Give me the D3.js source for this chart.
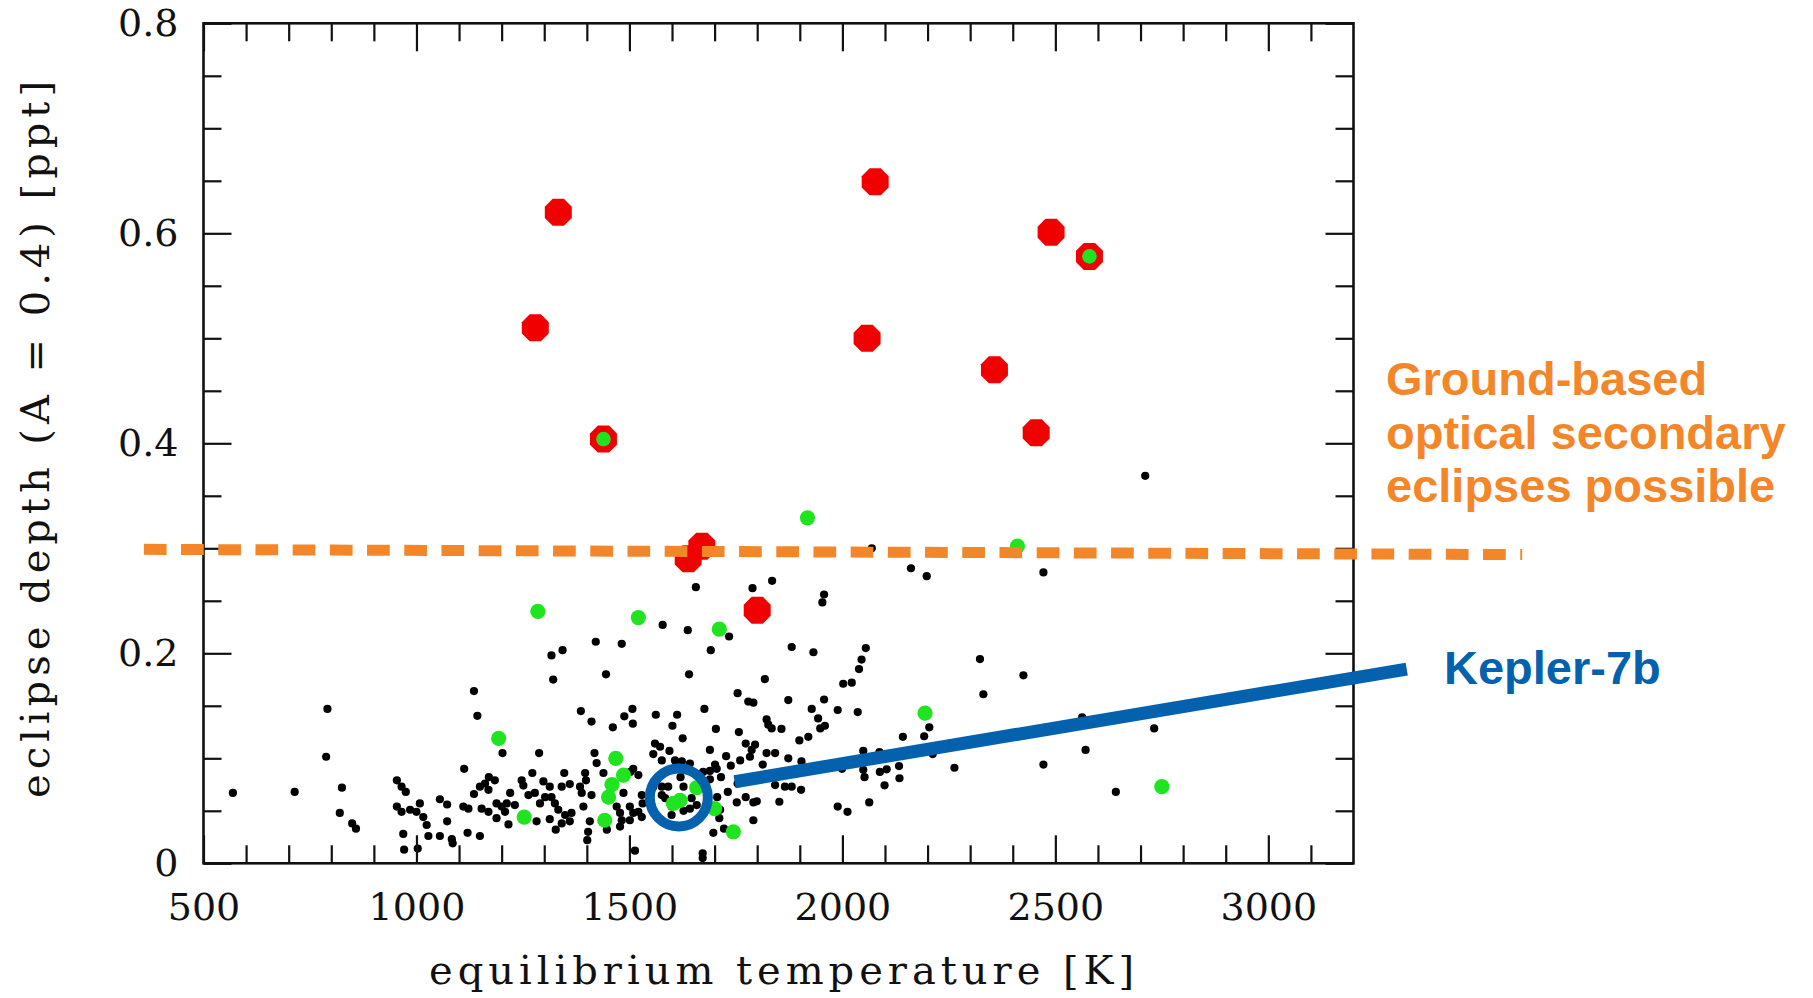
<!DOCTYPE html>
<html><head><meta charset="utf-8">
<script src="https://cdn.jsdelivr.net/npm/d3@7"></script>
<style>html,body{margin:0;padding:0;background:#fff;} svg{display:block}</style>
</head><body>
<svg id="chart" width="1813" height="998"></svg>
<script>
// ---------- DATA (equilibrium temperature [K], eclipse depth [ppt]) ----------
const xMajorTicks = [500, 1000, 1500, 2000, 2500, 3000];
const yMajorTicks = [0, 0.2, 0.4, 0.6, 0.8];
const yTickLabels = ["0", "0.2", "0.4", "0.6", "0.8"];

const blackPlanets = [
 [569,0.067],[714,0.068],[791,0.147],[788,0.1015],[825,0.072],[820,0.048],[849,0.038],[858,0.033],
 [1421,0.211],[1343,0.203],[1317,0.198],[1445,0.180],[1321,0.175],[1135,0.164],[1143,0.1405],[1386,0.145],
 [1411,0.135],[1202,0.105],[1288,0.105],[1112,0.090],[1418,0.105],[1423,0.0955],[1272,0.086],[954,0.079],
 [965,0.073],[975,0.068],[1170,0.082],[1161,0.076],[1184,0.079],[1149,0.073],[1135,0.066],[1169,0.070],
 [1220,0.067],[1247,0.079],[1251,0.074],[1298,0.078],[1313,0.073],[1347,0.086],[1360,0.0755],[1341,0.073],
 [1396,0.086],[1398,0.079],[1384,0.073],[1411,0.065],[1263,0.065],[1278,0.067],[1290,0.057],[1302,0.063],
 [1317,0.063],[1325,0.057],[1333,0.051],[1349,0.046],[1364,0.048],[1392,0.054],[1388,0.067],[954,0.054],
 [965,0.049],[985,0.051],[1008,0.057],[1000,0.049],[1016,0.044],[1024,0.0365],[1055,0.061],[1072,0.056],
 [1072,0.040],[1110,0.054],[1122,0.052],[1153,0.052],[1169,0.049],[1188,0.057],[1200,0.054],[1212,0.057],
 [1208,0.049],[1231,0.0555],[1188,0.043],[1216,0.037],[1282,0.040],[1313,0.042],[1341,0.038],[1327,0.032],
 [1360,0.040],[1407,0.040],[1403,0.030],[1401,0.022],[1447,0.032],[969,0.028],[971,0.013],[1003,0.014],
 [1028,0.026],[1055,0.026],[1083,0.023],[1085,0.019],[1120,0.029],[1149,0.026],[1439,0.086],
 [1482,0.209],[1691,0.203],[1881,0.206],[1932,0.201],[1640,0.180],[1818,0.1755],[1754,0.162],[1779,0.154],
 [1791,0.153],[1873,0.1555],[1957,0.156],[1989,0.146],[1507,0.147],[1488,0.140],[1508,0.133],[1461,0.1295],
 [1562,0.1415],[1612,0.1415],[1601,0.131],[1676,0.147],[1703,0.128],[1625,0.119],[1757,0.125],[1822,0.137],
 [1826,0.132],[1834,0.1285],[1857,0.128],[1928,0.147],[1943,0.138],[1948,0.1285],[1959,0.131],[1920,0.1205],
 [1899,0.117],[1572,0.111],[1556,0.104],[1594,0.107],[1576,0.098],[1607,0.098],[1623,0.097],[1642,0.095],
 [1689,0.108],[1701,0.094],[1705,0.090],[1727,0.102],[1738,0.093],[1760,0.098],[1773,0.114],[1795,0.113],
 [1787,0.108],[1783,0.1015],[1822,0.105],[1842,0.105],[1873,0.100],[1813,0.094],[1904,0.097],[1689,0.088],
 [1715,0.082],[1731,0.068],[1754,0.076],[1773,0.063],[1752,0.058],[1791,0.058],[1799,0.059],[1842,0.0745],
 [1865,0.073],[1881,0.073],[1903,0.070],[1852,0.0586],[1989,0.054],[1706,0.063],[1713,0.051],[1711,0.043],
 [1697,0.029],[1722,0.033],[1791,0.041],[1689,0.080],[1521,0.084],[1509,0.090],[1502,0.087],[1486,0.067],
 [1470,0.054],[1478,0.048],[1501,0.054],[1509,0.048],[1501,0.041],[1529,0.065],[1531,0.057],[1521,0.049],
 [1529,0.044],[1482,0.041],[1478,0.035],[1560,0.114],[1564,0.079],[1556,0.073],[1576,0.073],[1576,0.065],
 [1584,0.062],[1591,0.073],[1620,0.082],[1627,0.073],[1646,0.062],[1658,0.0555],[1627,0.050],[1642,0.052],
 [1599,0.054],[1599,0.046],[1513,0.012],[1672,0.0095],[1672,0.005],[1673,0.087],[1666,0.081],
 [1656,0.263],[1789,0.262],[1835,0.269],[1957,0.256],[1953,0.2485],[1578,0.227],[1637,0.222],[1734,0.216],
 [2055,0.205],[2161,0.281],[2198,0.2735],[2472,0.277],[2045,0.194],[2039,0.185],[2002,0.171],[2022,0.172],
 [2036,0.144],[2323,0.1945],[2425,0.179],[2331,0.161],[2204,0.1295],[2192,0.121],[2142,0.1205],[2049,0.107],
 [2087,0.106],[2212,0.104],[1999,0.090],[2049,0.089],[2052,0.082],[2088,0.087],[2104,0.0895],[2133,0.0926],
 [2134,0.081],[2099,0.0743],[2263,0.091],[2012,0.049],[2063,0.058],[2563,0.139],[2571,0.108],[2472,0.094],
 [2642,0.068],[2711,0.369],[2732,0.1285],[2069,0.300]
];

const greenPlanets = [
 [1918,0.329],[2411,0.302],[1285,0.240],[1521,0.234],[1711,0.223],[2194,0.143],[1193,0.119],[2750,0.073],
 [1468,0.100],[1486,0.084],[1459,0.075],[1451,0.063],[1442,0.041],[1253,0.044],[1619,0.060],[1603,0.057],
 [1658,0.072],[1700,0.052],[1744,0.030]
];

const redPlanets = [
 [1333,0.620],[1279,0.510],[1439,0.404],[2077,0.649],[2058,0.500],[2490,0.601],[2580,0.578],
 [2357,0.470],[2455,0.410],[1670,0.302],[1638,0.290],[1800,0.241]
];
const redWithGreenCenter = [[1439,0.404],[2580,0.578]];

const thresholdTemp = [360, 3596];
const thresholdDepth = [0.299, 0.294];

const kepler7b = [1616, 0.0627];
const keplerPointerTemp = [1747, 3325];
const keplerPointerDepth = [0.0777, 0.185];

const groundLines = ["Ground-based", "optical secondary", "eclipses possible"];
const keplerLabel = "Kepler-7b";
const xTitle = "equilibrium temperature [K]";
const yTitle = "eclipse depth (A = 0.4) [ppt]";

// ---------- LAYOUT ----------
const svg = d3.select("#chart");
const L = 203.5, R = 1353.5, T = 23.3, B = 863.3;
const x = d3.scaleLinear().domain([500, 3200]).range([L, R]);
const y = d3.scaleLinear().domain([0, 0.8]).range([B, T]);

const xMinor = d3.range(600, 3200, 100).filter(v => v % 500 !== 0);
const yMinor = d3.range(0.05, 0.8, 0.05).filter(v => Math.abs(v*5 - Math.round(v*5)) > 1e-6);

const tickFont = "'DejaVu Serif', serif";
const orange = "#f4862a", blue = "#0461ad";

// points layer
const pts = svg.append("g");
pts.selectAll("circle.b").data(blackPlanets).join("circle").attr("class","b")
  .attr("cx", d => x(d[0])).attr("cy", d => y(d[1])).attr("r", 4.1).attr("fill", "#000");
pts.selectAll("circle.g").data(greenPlanets).join("circle").attr("class","g")
  .attr("cx", d => x(d[0])).attr("cy", d => y(d[1])).attr("r", 7.6).attr("fill", "#1fe41f");

const octagon = { draw(ctx, size) {
  const r = Math.sqrt(size / (2 * Math.SQRT2));
  for (let i = 0; i < 8; i++) {
    const a = Math.PI / 8 + i * Math.PI / 4;
    const px = r * Math.cos(a), py = r * Math.sin(a);
    if (i === 0) ctx.moveTo(px, py); else ctx.lineTo(px, py);
  }
  ctx.closePath();
}};
pts.selectAll("path.r").data(redPlanets).join("path").attr("class","r")
  .attr("transform", d => `translate(${x(d[0])},${y(d[1])})`)
  .attr("d", d3.symbol().type(octagon).size(603)).attr("fill", "#f00000");
pts.selectAll("circle.gc").data(redWithGreenCenter).join("circle").attr("class","gc")
  .attr("cx", d => x(d[0])).attr("cy", d => y(d[1])).attr("r", 7.3).attr("fill", "#1fe41f");

// axes / frame
function styleAxis(g) {
  g.select(".domain").remove();
  g.selectAll(".tick line").attr("stroke", "#111").attr("stroke-width", 2.2);
  g.selectAll("text").attr("fill", "#111");
  g.attr("font-family", tickFont).attr("font-size", 38);
}
svg.append("g").attr("transform", `translate(0,${B})`)
  .call(d3.axisBottom(x).tickValues(xMajorTicks).tickSize(-28).tickPadding(30).tickFormat(d3.format("d")))
  .call(styleAxis);
svg.append("g").attr("transform", `translate(0,${B})`)
  .call(d3.axisBottom(x).tickValues(xMinor).tickSize(-18).tickFormat(""))
  .call(styleAxis);
svg.append("g").attr("transform", `translate(0,${T})`)
  .call(d3.axisTop(x).tickValues(xMajorTicks).tickSize(-28).tickFormat(""))
  .call(styleAxis);
svg.append("g").attr("transform", `translate(0,${T})`)
  .call(d3.axisTop(x).tickValues(xMinor).tickSize(-18).tickFormat(""))
  .call(styleAxis);
svg.append("g").attr("transform", `translate(${L},0)`)
  .call(d3.axisLeft(y).tickValues(yMajorTicks).tickSize(-28).tickPadding(25).tickFormat((d, i) => yTickLabels[i]))
  .call(styleAxis);
svg.append("g").attr("transform", `translate(${L},0)`)
  .call(d3.axisLeft(y).tickValues(yMinor).tickSize(-18).tickFormat(""))
  .call(styleAxis);
svg.append("g").attr("transform", `translate(${R},0)`)
  .call(d3.axisRight(y).tickValues(yMajorTicks).tickSize(-28).tickFormat(""))
  .call(styleAxis);
svg.append("g").attr("transform", `translate(${R},0)`)
  .call(d3.axisRight(y).tickValues(yMinor).tickSize(-18).tickFormat(""))
  .call(styleAxis);
svg.append("rect").attr("x", L).attr("y", T).attr("width", R - L).attr("height", B - T)
  .attr("fill", "none").attr("stroke", "#111").attr("stroke-width", 2.6);

// axis titles
svg.append("text").attr("x", (429 + 1134) / 2).attr("y", 984).attr("text-anchor", "middle")
  .attr("font-family", tickFont).attr("font-size", 40).attr("fill", "#111")
  .attr("textLength", 705).attr("lengthAdjust", "spacing").text(xTitle);
svg.append("text").attr("transform", "translate(49,439.5) rotate(-90)").attr("text-anchor", "middle")
  .attr("font-family", tickFont).attr("font-size", 40).attr("fill", "#111")
  .attr("textLength", 717).attr("lengthAdjust", "spacing").text(yTitle);

// threshold dashed line
svg.append("line")
  .attr("x1", x(thresholdTemp[0])).attr("y1", y(thresholdDepth[0]))
  .attr("x2", x(thresholdTemp[1])).attr("y2", y(thresholdDepth[1]))
  .attr("stroke", orange).attr("stroke-width", 11).attr("stroke-dasharray", "22.7 14.5");

// Kepler-7b marker and pointer
svg.append("circle").attr("cx", x(kepler7b[0])).attr("cy", y(kepler7b[1])).attr("r", 29)
  .attr("fill", "none").attr("stroke", blue).attr("stroke-width", 10);
svg.append("line")
  .attr("x1", x(keplerPointerTemp[0])).attr("y1", y(keplerPointerDepth[0]))
  .attr("x2", x(keplerPointerTemp[1])).attr("y2", y(keplerPointerDepth[1]))
  .attr("stroke", blue).attr("stroke-width", 13);

// annotations
const annFont = "'Liberation Sans', Arial, sans-serif";
svg.append("g").selectAll("text").data(groundLines).join("text")
  .attr("x", 1386).attr("y", (d, i) => 395 + i * 53.5)
  .attr("font-family", annFont).attr("font-weight", "bold").attr("font-size", 47)
  .attr("fill", orange).text(d => d);
svg.append("text").attr("x", 1444).attr("y", 684)
  .attr("font-family", annFont).attr("font-weight", "bold").attr("font-size", 47)
  .attr("fill", blue).text(keplerLabel);
</script>
</body></html>
